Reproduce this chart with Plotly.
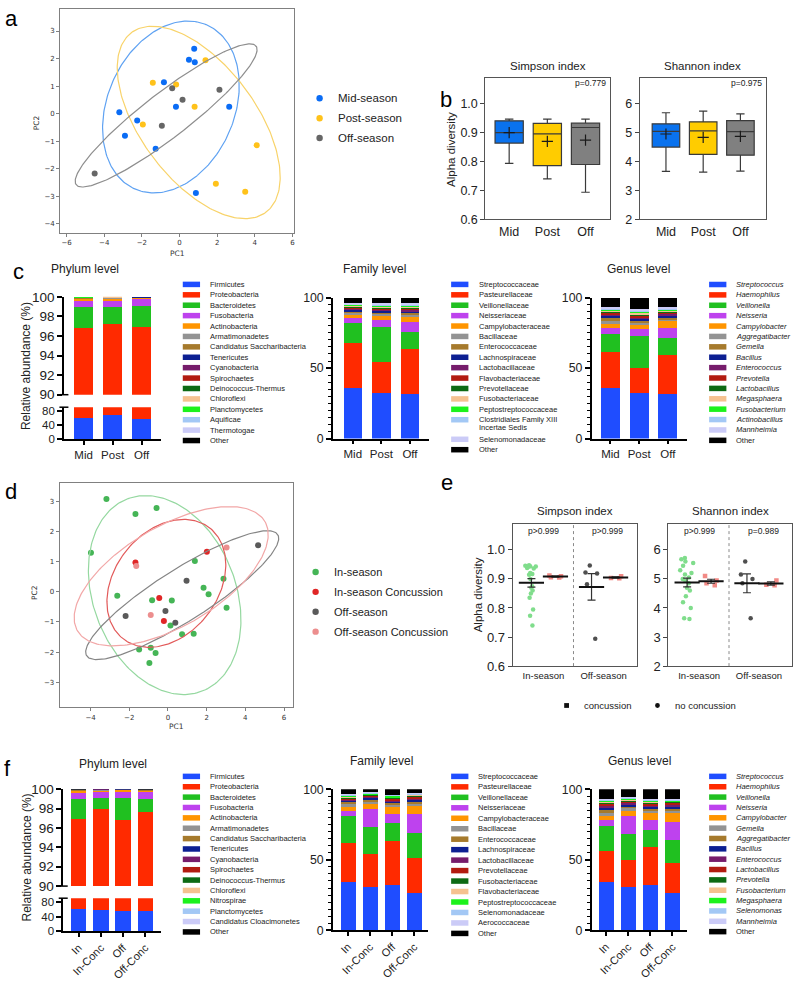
import numpy as np
import plotly.graph_objects as go

W, H = 797, 984
ARIAL = "Liberation Sans, Arial, sans-serif"
MPL = "DejaVu Sans, sans-serif"
INK = "#222222"

# ======================= DATA =======================
# (a) PCA by season
a_mid_pc1 = [0.78, 0.50, 0.81, -0.83, -0.19, 2.64, -3.20, -2.25, -2.90, -1.27, 0.87]
a_mid_pc2 = [2.36, 1.96, 1.87, 1.14, 0.25, 0.25, 0.05, -0.25, -0.80, -1.27, -2.88]
a_post_pc1 = [1.38, -1.42, -0.18, 0.80, -1.95, 4.10, 1.93, 3.49]
a_post_pc2 = [1.94, 1.12, 1.06, 0.25, -0.39, -1.14, -2.54, -2.83]
a_off_pc1 = [-0.39, 2.12, 0.16, -0.94, -4.51]
a_off_pc2 = [0.92, 0.87, 0.51, -0.44, -2.17]
a_labels = ["Mid-season", "Post-season", "Off-season"]

# (b) alpha diversity box statistics
b_groups = ["Mid", "Post", "Off"]
b_simpson_low = [0.794, 0.740, 0.694]
b_simpson_q1 = [0.864, 0.786, 0.790]
b_simpson_med = [0.900, 0.896, 0.918]
b_simpson_q3 = [0.941, 0.932, 0.933]
b_simpson_high = [0.947, 0.947, 0.947]
b_simpson_mean = [0.900, 0.870, 0.874]
b_shannon_low = [3.65, 3.63, 3.66]
b_shannon_q1 = [4.49, 4.24, 4.21]
b_shannon_med = [5.03, 5.05, 5.02]
b_shannon_q3 = [5.29, 5.36, 5.40]
b_shannon_high = [5.67, 5.73, 5.63]
b_shannon_mean = [4.94, 4.82, 4.86]
b_p = ["p=0.779", "p=0.975"]

# (c) relative abundance by season
c_groups = ["Mid", "Post", "Off"]
c_phylum_names = ["Firmicutes", "Proteobacteria", "Bacteroidetes", "Fusobacteria", "Actinobacteria",
                  "Armatimonadetes", "Candidatus Saccharibacteria", "Tenericutes", "Cyanobacteria",
                  "Spirochaetes", "Deinococcus-Thermus", "Chloroflexi", "Planctomycetes", "Aquificae",
                  "Thermotogae", "Other"]
c_phylum_values = [
    [58.5, 67.5, 56.0], [38.3, 29.7, 40.9], [2.2, 1.8, 2.2], [0.67, 0.6, 0.7], [0.14, 0.2, 0.1],
    [0.08, 0.1, 0.05], [0.05, 0.06, 0.04], [0.02, 0.01, 0.01], [0.01, 0.01, 0.01], [0.01, 0.01, 0.01],
    [0.005, 0.005, 0.005], [0.01, 0.01, 0.01], [0.005, 0.005, 0.005], [0.003, 0.003, 0.003],
    [0.002, 0.002, 0.002], [0.005, 0.005, 0.005]]
c_family_names = ["Streptococcaceae", "Pasteurellaceae", "Veillonellaceae", "Neisseriaceae",
                  "Campylobacteraceae", "Bacillaceae", "Enterococcaceae", "Lachnospiraceae",
                  "Lactobacillaceae", "Flavobacteriaceae", "Prevotellaceae", "Fusobacteriaceae",
                  "Peptostreptococcaceae", "Clostridiales Family XIII<br>Incertae Sedis",
                  "Selenomonadaceae", "Other"]
c_family_values = [
    [36.0, 32.1, 31.9], [32.1, 22.1, 31.4], [14.0, 25.1, 12.3], [3.2, 4.7, 6.7], [2.8, 2.7, 4.9],
    [1.4, 1.7, 1.2], [1.2, 1.6, 1.1], [0.9, 1.0, 1.2], [0.8, 0.9, 0.8], [0.8, 0.8, 1.0],
    [0.7, 0.6, 0.7], [0.5, 0.5, 0.5], [0.8, 0.8, 1.2], [0.5, 0.9, 0.5], [0.6, 0.5, 0.5],
    [3.7, 4.0, 4.1]]
c_genus_names = ["Streptococcus", "Haemophilus", "Veillonella", "Neisseria", "Campylobacter",
                 "Aggregatibacter", "Gemella", "Bacillus", "Enterococcus", "Prevotella", "Lactobacillus",
                 "Megasphaera", "Fusobacterium", "Actinobacillus", "Mannheimia", "Other"]
c_genus_values = [
    [36.0, 32.1, 31.9], [25.2, 17.9, 27.6], [13.0, 22.6, 11.9], [3.9, 5.1, 6.7], [2.8, 3.2, 4.9],
    [2.8, 1.2, 2.1], [2.3, 1.6, 1.4], [1.4, 1.6, 1.2], [1.2, 1.2, 1.1], [1.2, 0.9, 1.0],
    [0.9, 1.0, 0.9], [0.7, 1.1, 0.5], [0.7, 0.8, 0.9], [0.7, 0.6, 0.4], [0.7, 0.7, 0.8],
    [6.4, 8.4, 6.7]]

# (d) PCA by season and concussion
d_labels = ["In-season", "In-season Concussion", "Off-season", "Off-season Concussion"]
d_in_pc1 = [-3.18, -1.68, -0.59, -3.98, 1.39, 2.87, -2.62, 1.84, 2.10, -0.82, 0.20, 3.03, 0.13,
            0.73, 1.33, -1.49, -0.89, -0.64, -0.96]
d_in_pc2 = [3.07, 2.57, 2.77, 1.29, 1.02, 0.43, -0.13, 0.13, -0.08, -0.28, -0.29, -0.53, -1.12,
            -1.41, -1.39, -1.91, -1.85, -2.03, -2.36]
d_inc_pc1 = [-1.68, 2.01, -0.45, -0.21]
d_inc_pc2 = [0.97, 1.32, -0.21, -0.97]
d_off_pc1 = [0.96, 4.66, -2.19, -0.13, 0.38]
d_off_pc2 = [0.36, 1.54, -0.80, -0.64, -1.03]
d_offc_pc1 = [-1.64, 3.03, -0.89]
d_offc_pc2 = [0.85, 1.46, -0.77]

# (e) alpha diversity, individual samples
e_simpson_in = [0.947, 0.945, 0.944, 0.943, 0.942, 0.938, 0.936, 0.920, 0.917, 0.914, 0.900, 0.875,
                0.870, 0.860, 0.850, 0.835, 0.795, 0.773, 0.740]
e_simpson_in_conc = [0.912, 0.909, 0.906, 0.905]
e_simpson_off = [0.946, 0.922, 0.919, 0.882, 0.694]
e_simpson_off_conc = [0.909, 0.903, 0.902]
e_shannon_in = [5.72, 5.68, 5.60, 5.55, 5.45, 5.30, 5.20, 5.15, 5.05, 5.00, 4.95, 4.85, 4.70, 4.60,
                4.40, 4.20, 4.00, 3.65, 3.62]
e_shannon_in_conc = [5.10, 4.95, 4.85, 4.78]
e_shannon_off = [5.60, 5.15, 5.00, 4.85, 3.65]
e_shannon_off_conc = [4.95, 4.80, 4.78]
e_season_labels = ["In-season", "Off-season"]
e_simpson_p = ["p>0.999", "p>0.999"]
e_shannon_p = ["p>0.999", "p=0.989"]

# (f) relative abundance by season and concussion
f_groups = ["In", "In-Conc", "Off", "Off-Conc"]
f_phylum_names = ["Firmicutes", "Proteobacteria", "Bacteroidetes", "Fusobacteria", "Actinobacteria",
                  "Armatimonadetes", "Candidatus Saccharibacteria", "Tenericutes", "Cyanobacteria",
                  "Spirochaetes", "Deinococcus-Thermus", "Chloroflexi", "Nitrospirae", "Planctomycetes",
                  "Candidatus Cloacimonetes", "Other"]
f_phylum_values = [
    [61.3, 57.8, 54.2, 54.2], [35.65, 40.2, 42.65, 43.4], [2.03, 1.1, 2.2, 1.35],
    [0.68, 0.62, 0.71, 0.75], [0.14, 0.13, 0.14, 0.10], [0.08, 0.07, 0.05, 0.07],
    [0.05, 0.05, 0.03, 0.05], [0.02, 0.02, 0.02, 0.02], [0.01, 0.01, 0.01, 0.01],
    [0.01, 0.01, 0.01, 0.01], [0.005, 0.005, 0.005, 0.005], [0.01, 0.01, 0.01, 0.01],
    [0.005, 0.005, 0.005, 0.005], [0.005, 0.005, 0.005, 0.005], [0.003, 0.003, 0.003, 0.003],
    [0.005, 0.005, 0.005, 0.005]]
f_family_names = ["Streptococcaceae", "Pasteurellaceae", "Veillonellaceae", "Neisseriaceae",
                  "Campylobacteraceae", "Bacillaceae", "Enterococcaceae", "Lachnospiraceae",
                  "Lactobacillaceae", "Prevotellaceae", "Fusobacteriaceae", "Flavobacteriaceae",
                  "Peptostreptococcaceae", "Selenomonadaceae", "Aerococcaceae", "Other"]
f_family_values = [
    [34.4, 30.9, 31.9, 26.5], [27.7, 23.5, 31.4, 25.1], [18.8, 19.1, 12.5, 17.7],
    [4.0, 12.8, 6.8, 12.8], [2.8, 3.5, 4.6, 6.3], [1.8, 1.6, 1.6, 1.4], [1.4, 1.2, 1.4, 1.1],
    [1.0, 1.1, 1.2, 1.7], [0.9, 0.8, 0.8, 1.0], [0.8, 0.9, 0.9, 1.1], [0.6, 0.6, 0.6, 0.6],
    [0.5, 0.4, 0.5, 0.5], [0.9, 0.6, 1.0, 0.6], [0.6, 0.4, 0.6, 0.5], [0.5, 0.3, 0.4, 0.3],
    [3.3, 2.3, 3.8, 2.8]]
f_genus_names = ["Streptococcus", "Haemophilus", "Veillonella", "Neisseria", "Campylobacter", "Gemella",
                 "Aggregatibacter", "Bacillus", "Enterococcus", "Lactobacillus", "Prevotella",
                 "Fusobacterium", "Megasphaera", "Selenomonas", "Mannheimia", "Other"]
f_genus_values = [
    [34.4, 30.9, 31.9, 26.5], [21.9, 19.3, 27.4, 20.9], [17.4, 17.9, 12.1, 16.8],
    [4.4, 12.6, 6.7, 12.5], [3.1, 3.7, 4.7, 6.1], [2.1, 2.3, 2.1, 2.1], [2.3, 1.2, 1.4, 1.6],
    [1.4, 1.4, 1.1, 1.4], [1.4, 1.2, 1.2, 1.4], [1.1, 0.9, 1.2, 0.9], [0.7, 0.5, 0.9, 0.6],
    [0.7, 0.6, 0.7, 0.6], [1.0, 0.8, 0.6, 0.6], [0.5, 0.6, 0.5, 0.4], [0.5, 0.5, 0.4, 0.9],
    [7.1, 5.6, 7.1, 6.7]]

# ======================= STYLE =======================
PALETTE = ["#1F4DFF", "#FF2A00", "#20C020", "#BE42EE", "#FF9500", "#939393", "#A67A2C", "#0C1F92",
           "#761C6B", "#B21B10", "#0D6A14", "#F5C290", "#1CF21C", "#A3C8F5", "#CBCBF7", "#000000"]
A_PT = ["#0A6CF5", "#FFC21A", "#666666"]
A_EL = ["#5FA2F2", "#F8D36A", "#8E8E8E"]
D_PT = ["#45B556", "#E02626", "#5A5A5A", "#EC8E8E"]
D_EL = ["#95D8A0", "#E25A5A", "#858585", "#F2A7A7"]
BOX_FILL = ["#0A72EE", "#FFCC00", "#808080"]
E_PT = ["#80DD8C", "#F28A86", "#4F4F4F", "#F28A86"]

fig = go.Figure()
layout = dict(width=W, height=H, autosize=False, margin=dict(l=0, r=0, t=0, b=0),
              paper_bgcolor="white", plot_bgcolor="white", showlegend=False, barmode="stack",
              boxmode="overlay", font=dict(family=ARIAL, color=INK))
annotations = []
shapes = []


def X(px):
    return px / W


def Y(py):
    return 1 - py / H


def set_axes(n, xpx, ypx, xkw, ykw):
    s = "" if n == 1 else str(n)
    layout["xaxis" + s] = dict(domain=[X(xpx[0]), X(xpx[1])], anchor="y" + s, **xkw)
    layout["yaxis" + s] = dict(domain=[Y(ypx[1]), Y(ypx[0])], anchor="x" + s, **ykw)
    return "x" + s, "y" + s


def text(px, py, s, size, xanchor="center", yanchor="middle", angle=0, family=ARIAL, color=INK):
    annotations.append(dict(x=X(px), y=Y(py), xref="paper", yref="paper", text=s, showarrow=False,
                            xanchor=xanchor, yanchor=yanchor, textangle=angle,
                            font=dict(family=family, size=size, color=color)))


def dot(px, py, r, color, kind="circle"):
    shapes.append(dict(type=kind, xref="paper", yref="paper", xsizemode="pixel", ysizemode="pixel",
                       xanchor=X(px), yanchor=Y(py), x0=-r, x1=r, y0=-r, y1=r,
                       fillcolor=color, line=dict(width=0)))


def conf_ellipse(x, y, n_std=2.0, npts=240):
    x = np.asarray(x, float)
    y = np.asarray(y, float)
    vals, vecs = np.linalg.eigh(np.cov(x, y))
    t = np.linspace(0, 2 * np.pi, npts)
    circ = np.vstack([np.cos(t), np.sin(t)])
    pts = vecs @ (n_std * np.sqrt(vals)[:, None] * circ)
    return pts[0] + x.mean(), pts[1] + y.mean()


def pca_axes(xr, yr, xt, yt):
    common = dict(showline=True, mirror=True, linecolor="#808080", linewidth=1, ticks="outside",
                  ticklen=3, tickwidth=0.8, tickcolor="#808080",
                  tickfont=dict(family=MPL, size=7, color="#333"), showgrid=False, zeroline=False)
    return dict(range=xr, tickvals=xt, **common), dict(range=yr, tickvals=yt, **common)


# ======================= (a) =======================
xk, yk = pca_axes([-6.34, 6.1], [-4.32, 3.81], [-6, -4, -2, 0, 2, 4, 6], list(range(-4, 4)))
xr, yr = set_axes(1, (60.3, 294.7), (1.7, 229.3), xk, yk)
for i, (p1, p2) in enumerate([(a_mid_pc1, a_mid_pc2), (a_post_pc1, a_post_pc2), (a_off_pc1, a_off_pc2)]):
    fig.add_trace(go.Scatter(x=p1, y=p2, mode="markers", marker=dict(color=A_PT[i], size=6),
                             xaxis=xr, yaxis=yr))
for i, (p1, p2) in enumerate([(a_mid_pc1, a_mid_pc2), (a_post_pc1, a_post_pc2), (a_off_pc1, a_off_pc2)]):
    ex, ey = conf_ellipse(p1, p2)
    fig.add_trace(go.Scatter(x=ex, y=ey, mode="lines", line=dict(color=A_EL[i], width=1.2),
                             xaxis=xr, yaxis=yr, hoverinfo="skip"))
text(177.5, 250, "PC1", 7.5, family=MPL, color="#333")
text(36, 117, "PC2", 7.5, angle=-90, family=MPL, color="#333")
for i, lab in enumerate(a_labels):
    yy = 92.7 + i * 20.2
    dot(320, yy, 3.2, A_PT[i])
    text(336, yy, lab, 11.5, xanchor="left")

# ======================= (b) =======================


def box_axes(xrange, yrange, ytv, fmt):
    xk = dict(type="category", range=xrange, showline=True, mirror=True, linecolor="#555",
              linewidth=1.2, ticks="", tickfont=dict(size=12.5, color=INK), showgrid=False,
              zeroline=False)
    yk = dict(range=yrange, tickvals=ytv, tickformat=fmt, showline=True, mirror=True, linecolor="#555",
              linewidth=1.2, ticks="outside", ticklen=4, tickcolor="#444",
              tickfont=dict(size=12.5, color=INK), showgrid=False, zeroline=False)
    return xk, yk


b_panels = [
    (2, (486, 610.7), [-0.623, 2.64], [0.6, 1.0906], [0.6, 0.7, 0.8, 0.9, 1.0], ".1f",
     (b_simpson_low, b_simpson_q1, b_simpson_med, b_simpson_q3, b_simpson_high, b_simpson_mean),
     "Simpson index", b_p[0]),
    (3, (640.7, 766.7), [-0.70, 2.68], [2, 6.88], [2, 3, 4, 5, 6], "d",
     (b_shannon_low, b_shannon_q1, b_shannon_med, b_shannon_q3, b_shannon_high, b_shannon_mean),
     "Shannon index", b_p[1]),
]
for n, xpx, xrange, yrange, ytv, fmt, stats, title, pv in b_panels:
    xk, yk = box_axes(xrange, yrange, ytv, fmt)
    xr, yr = set_axes(n, xpx, (71.7, 215.7), xk, yk)
    low, q1, med, q3, high, mean = stats
    for i, g in enumerate(b_groups):
        fig.add_trace(go.Box(x=[g], q1=[q1[i]], median=[med[i]], q3=[q3[i]], lowerfence=[low[i]],
                             upperfence=[high[i]], fillcolor=BOX_FILL[i],
                             line=dict(color="#3a3a3a", width=1.2), width=0.74, whiskerwidth=0.3,
                             boxpoints=False, xaxis=xr, yaxis=yr))
    fig.add_trace(go.Scatter(x=b_groups, y=mean, mode="markers",
                             marker=dict(symbol="cross-thin", size=8, line=dict(width=1.2, color="#1a1a1a")),
                             xaxis=xr, yaxis=yr))
    text((xpx[0] + xpx[1]) / 2, 60, title, 11.5)
    text(xpx[1] - 2, 77, pv, 8.5, xanchor="right")
text(451.7, 145, "Alpha diversity", 11.5, angle=-90)

# ======================= stacked bars (c, f) =======================


def bar_xaxis(L, c0, s, R, angle=0, size=11.5):
    return dict(type="category", range=[-(c0 - L) / s, (R - c0) / s], showline=True, linecolor="black",
                linewidth=1.5, ticks="outside", ticklen=4, tickwidth=1.5, tickcolor="black",
                tickangle=angle, tickfont=dict(size=size, color=INK), showgrid=False, zeroline=False)


def bar_yaxis(rng, tv, size, minor=False):
    d = dict(range=rng, tickvals=tv, showline=True, linecolor="black", linewidth=1.5, ticks="outside",
             ticklen=5, tickwidth=1.5, tickcolor="black", tickfont=dict(size=size, color=INK),
             showgrid=False, zeroline=False)
    if minor:
        d["minor"] = dict(tickvals=list(range(0, 101, 5)), ticks="outside", ticklen=3, tickwidth=1,
                          tickcolor="black")
    return d


def stacked(xr, yr, groups, values, width):
    for vals, col in zip(values, PALETTE):
        fig.add_trace(go.Bar(x=groups, y=vals, marker=dict(color=col, line=dict(width=0)), width=width,
                             xaxis=xr, yaxis=yr))


def legend(x_sw, x_txt, y0, dy, names, italic=False, gap=9.3):
    y = y0
    for i, name in enumerate(names):
        lines = name.split("<br>")
        shapes.append(dict(type="rect", xref="paper", yref="paper", x0=X(x_sw), x1=X(x_sw + 17.3),
                           y0=Y(y + 2.8), y1=Y(y - 2.8), fillcolor=PALETTE[i], line=dict(width=0)))
        for k, ln in enumerate(lines):
            s = "<i>%s</i>" % ln if (italic and ln != "Other") else ln
            text(x_txt, y + k * 8.0, s, 7.5, xanchor="left")
        y += dy + (gap if len(lines) > 1 else 0)


def break_marks(L, y_top_axis_bottom, y_bottom_axis_top):
    for yy in (y_top_axis_bottom, y_bottom_axis_top):
        shapes.append(dict(type="line", xref="paper", yref="paper", x0=X(L - 4.5), x1=X(L + 4.5),
                           y0=Y(yy), y1=Y(yy), line=dict(color="black", width=1.5)))


# --- (c) phylum (broken axis)
L, c0, s, R = 64, 83.7, 29.05, 161
xk = bar_xaxis(L, c0, s, R)
xk_top = dict(xk, visible=False)
xr4, yr4 = set_axes(4, (L, R), (294.3, 393.7), xk_top, bar_yaxis([90, 100], [90, 92, 94, 96, 98, 100], 13.5))
xr5, yr5 = set_axes(5, (L, R), (406.4, 439), xk, bar_yaxis([0, 90], [0, 40, 80], 11.5))
stacked(xr4, yr4, c_groups, c_phylum_values, 0.66)
stacked(xr5, yr5, c_groups, c_phylum_values, 0.66)
break_marks(L, 393.7, 406.4)
# --- (c) family
xr, yr = set_axes(6, (333.3, 430), (295, 438.3), bar_xaxis(333.3, 353.2, 28.65, 430),
                  bar_yaxis([0, 100], [0, 50, 100], 12.3, minor=True))
stacked(xr, yr, c_groups, c_family_values, 0.64)
# --- (c) genus
xr, yr = set_axes(7, (592.3, 687.7), (295, 438.3), bar_xaxis(592.3, 611.2, 28.75, 687.7),
                  bar_yaxis([0, 100], [0, 50, 100], 12.3, minor=True))
stacked(xr, yr, c_groups, c_genus_values, 0.66)
text(26.7, 365, "Relative abundance (%)", 12, angle=-90)
text(85, 266, "Phylum level", 12)
text(375, 266, "Family level", 12)
text(639.3, 266, "Genus level", 12)
legend(183, 208, 281.7, 10.57, c_phylum_names)
legend(451.7, 477.3, 281.7, 10.57, c_family_names)
legend(710, 735, 281.8, 10.55, c_genus_names, italic=True)

# --- (f) phylum (broken axis)
L, c0, s, R = 63.3, 78.8, 22.23, 161
xk = bar_xaxis(L, c0, s, R, angle=-45, size=11)
xk_top = dict(xk, visible=False)
xr11, yr11 = set_axes(11, (L, R), (794.3, 892.7), xk_top, bar_yaxis([90, 100], [90, 92, 94, 96, 98, 100], 13.5))
xr12, yr12 = set_axes(12, (L, R), (905, 938.7), xk, bar_yaxis([0, 90], [0, 40, 80], 11.5))
stacked(xr11, yr11, f_groups, f_phylum_values, 0.69)
stacked(xr12, yr12, f_groups, f_phylum_values, 0.69)
break_marks(L, 892.7, 905)
# --- (f) family
xr, yr = set_axes(13, (333.3, 429), (794.3, 937.7), bar_xaxis(333.3, 348.5, 22.1, 429, angle=-45, size=11),
                  bar_yaxis([0, 100], [0, 50, 100], 12.3, minor=True))
stacked(xr, yr, f_groups, f_family_values, 0.68)
# --- (f) genus
xr, yr = set_axes(14, (592.3, 687.7), (794.3, 937.7), bar_xaxis(592.3, 606.8, 22.17, 687.7, angle=-45, size=11),
                  bar_yaxis([0, 100], [0, 50, 100], 12.3, minor=True))
stacked(xr, yr, f_groups, f_genus_values, 0.68)
text(26.7, 864, "Relative abundance (%)", 12, angle=-90)
text(113, 768.3, "Phylum level", 12)
text(381.7, 765.7, "Family level", 12)
text(640, 765.7, "Genus level", 12)
legend(183, 208, 781.3, 10.53, f_phylum_names)
legend(451.7, 477, 781.3, 10.63, f_family_names)
legend(710, 735, 781.3, 10.51, f_genus_names, italic=True)

# ======================= (d) =======================
xk, yk = pca_axes([-5.6, 6.46], [-3.82, 3.6], [-4, -2, 0, 2, 4, 6], list(range(-3, 4)))
xr, yr = set_axes(8, (59.7, 293.3), (483.3, 711), xk, yk)
d_sets = [(d_in_pc1, d_in_pc2), (d_inc_pc1, d_inc_pc2), (d_off_pc1, d_off_pc2), (d_offc_pc1, d_offc_pc2)]
for i, (p1, p2) in enumerate(d_sets):
    fig.add_trace(go.Scatter(x=p1, y=p2, mode="markers", marker=dict(color=D_PT[i], size=6),
                             xaxis=xr, yaxis=yr))
for i, (p1, p2) in enumerate(d_sets):
    ex, ey = conf_ellipse(p1, p2)
    fig.add_trace(go.Scatter(x=ex, y=ey, mode="lines", line=dict(color=D_EL[i], width=1.2),
                             xaxis=xr, yaxis=yr, hoverinfo="skip"))
text(176.5, 731, "PC1", 7.5, family=MPL, color="#333")
text(35, 594, "PC2", 7.5, angle=-90, family=MPL, color="#333")
for i, lab in enumerate(d_labels):
    yy = 573.7 + i * 20.2
    dot(316, yy, 3.2, D_PT[i])
    text(332, yy, lab, 11, xanchor="left")

# ======================= (e) =======================
E_POS = [0, 1, 2.5, 3.5]
E_SYM = ["circle", "square", "circle", "square"]
e_panels = [
    (9, (513.3, 637.3), [0.6, 1.089], [0.6, 0.7, 0.8, 0.9, 1.0], ".1f",
     [e_simpson_in, e_simpson_in_conc, e_simpson_off, e_simpson_off_conc], "Simpson index", e_simpson_p),
    (10, (669.3, 792.7), [2, 6.89], [2, 3, 4, 5, 6], "d",
     [e_shannon_in, e_shannon_in_conc, e_shannon_off, e_shannon_off_conc], "Shannon index", e_shannon_p),
]
for n, xpx, yrange, ytv, fmt, sets, title, pvals in e_panels:
    xk = dict(range=[-0.78, 4.37], tickvals=[0.5, 3.0], ticktext=e_season_labels, ticks="",
              showline=True, mirror=True, linecolor="#555", linewidth=1.2,
              tickfont=dict(size=9.5, color=INK), showgrid=False, zeroline=False)
    yk = dict(range=yrange, tickvals=ytv, tickformat=fmt, showline=True, mirror=True, linecolor="#555",
              linewidth=1.2, ticks="outside", ticklen=4, tickcolor="#444",
              tickfont=dict(size=13, color=INK), showgrid=False, zeroline=False)
    xr, yr = set_axes(n, xpx, (525, 669.3), xk, yk)
    for vals, pos, col, sym in zip(sets, E_POS, E_PT, E_SYM):
        fig.add_trace(go.Box(x=[pos] * len(vals), y=vals, orientation="v", boxpoints="all", jitter=0.85,
                             pointpos=0, width=0.7, fillcolor="rgba(0,0,0,0)",
                             line=dict(width=0, color="rgba(0,0,0,0)"),
                             marker=dict(color=col, size=4.5, symbol=sym), xaxis=xr, yaxis=yr))
        m = float(np.mean(vals))
        sem = float(np.std(vals, ddof=1) / np.sqrt(len(vals)))
        fig.add_trace(go.Scatter(x=[pos], y=[m], mode="markers",
                                 marker=dict(symbol="line-ew", size=18, line=dict(width=2, color="#111")),
                                 error_y=dict(type="data", array=[sem], visible=True, width=4,
                                              thickness=1.2, color="#333"),
                                 xaxis=xr, yaxis=yr))
    shapes.append(dict(type="line", xref=xr, yref=yr + " domain", x0=1.75, x1=1.75, y0=0, y1=1,
                       line=dict(color="#8a8a8a", width=1, dash="dot")))
    mid = (xpx[0] + xpx[1]) / 2
    text(mid, 512.3, title, 11.5)
    text(xpx[0] + 31, 532.3, pvals[0], 8.5)
    text(xpx[0] + 95, 532.3, pvals[1], 8.5)
text(478.3, 596.7, "Alpha diversity", 11.5, angle=-90)
dot(567.3, 709.3, 2.4, "#111", kind="rect")
text(583, 709.3, "concussion", 9.5, xanchor="left")
dot(658.3, 709.3, 2.4, "#111")
text(674, 709.3, "no concussion", 9.5, xanchor="left")

# ======================= panel letters =======================
for lab, px, py in [("a", 3, 11.5), ("b", 439, 93.5), ("c", 11, 268.5), ("d", 3, 491.5),
                    ("e", 440, 482.5), ("f", 2, 773)]:
    text(px, py, lab, 22, xanchor="left", color="black")

layout["annotations"] = annotations
layout["shapes"] = shapes
fig.update_layout(**layout)
fig.write_html("out.html", config={"displayModeBar": False},
               post_script="document.body.style.margin='0px';document.body.style.padding='0px';")
